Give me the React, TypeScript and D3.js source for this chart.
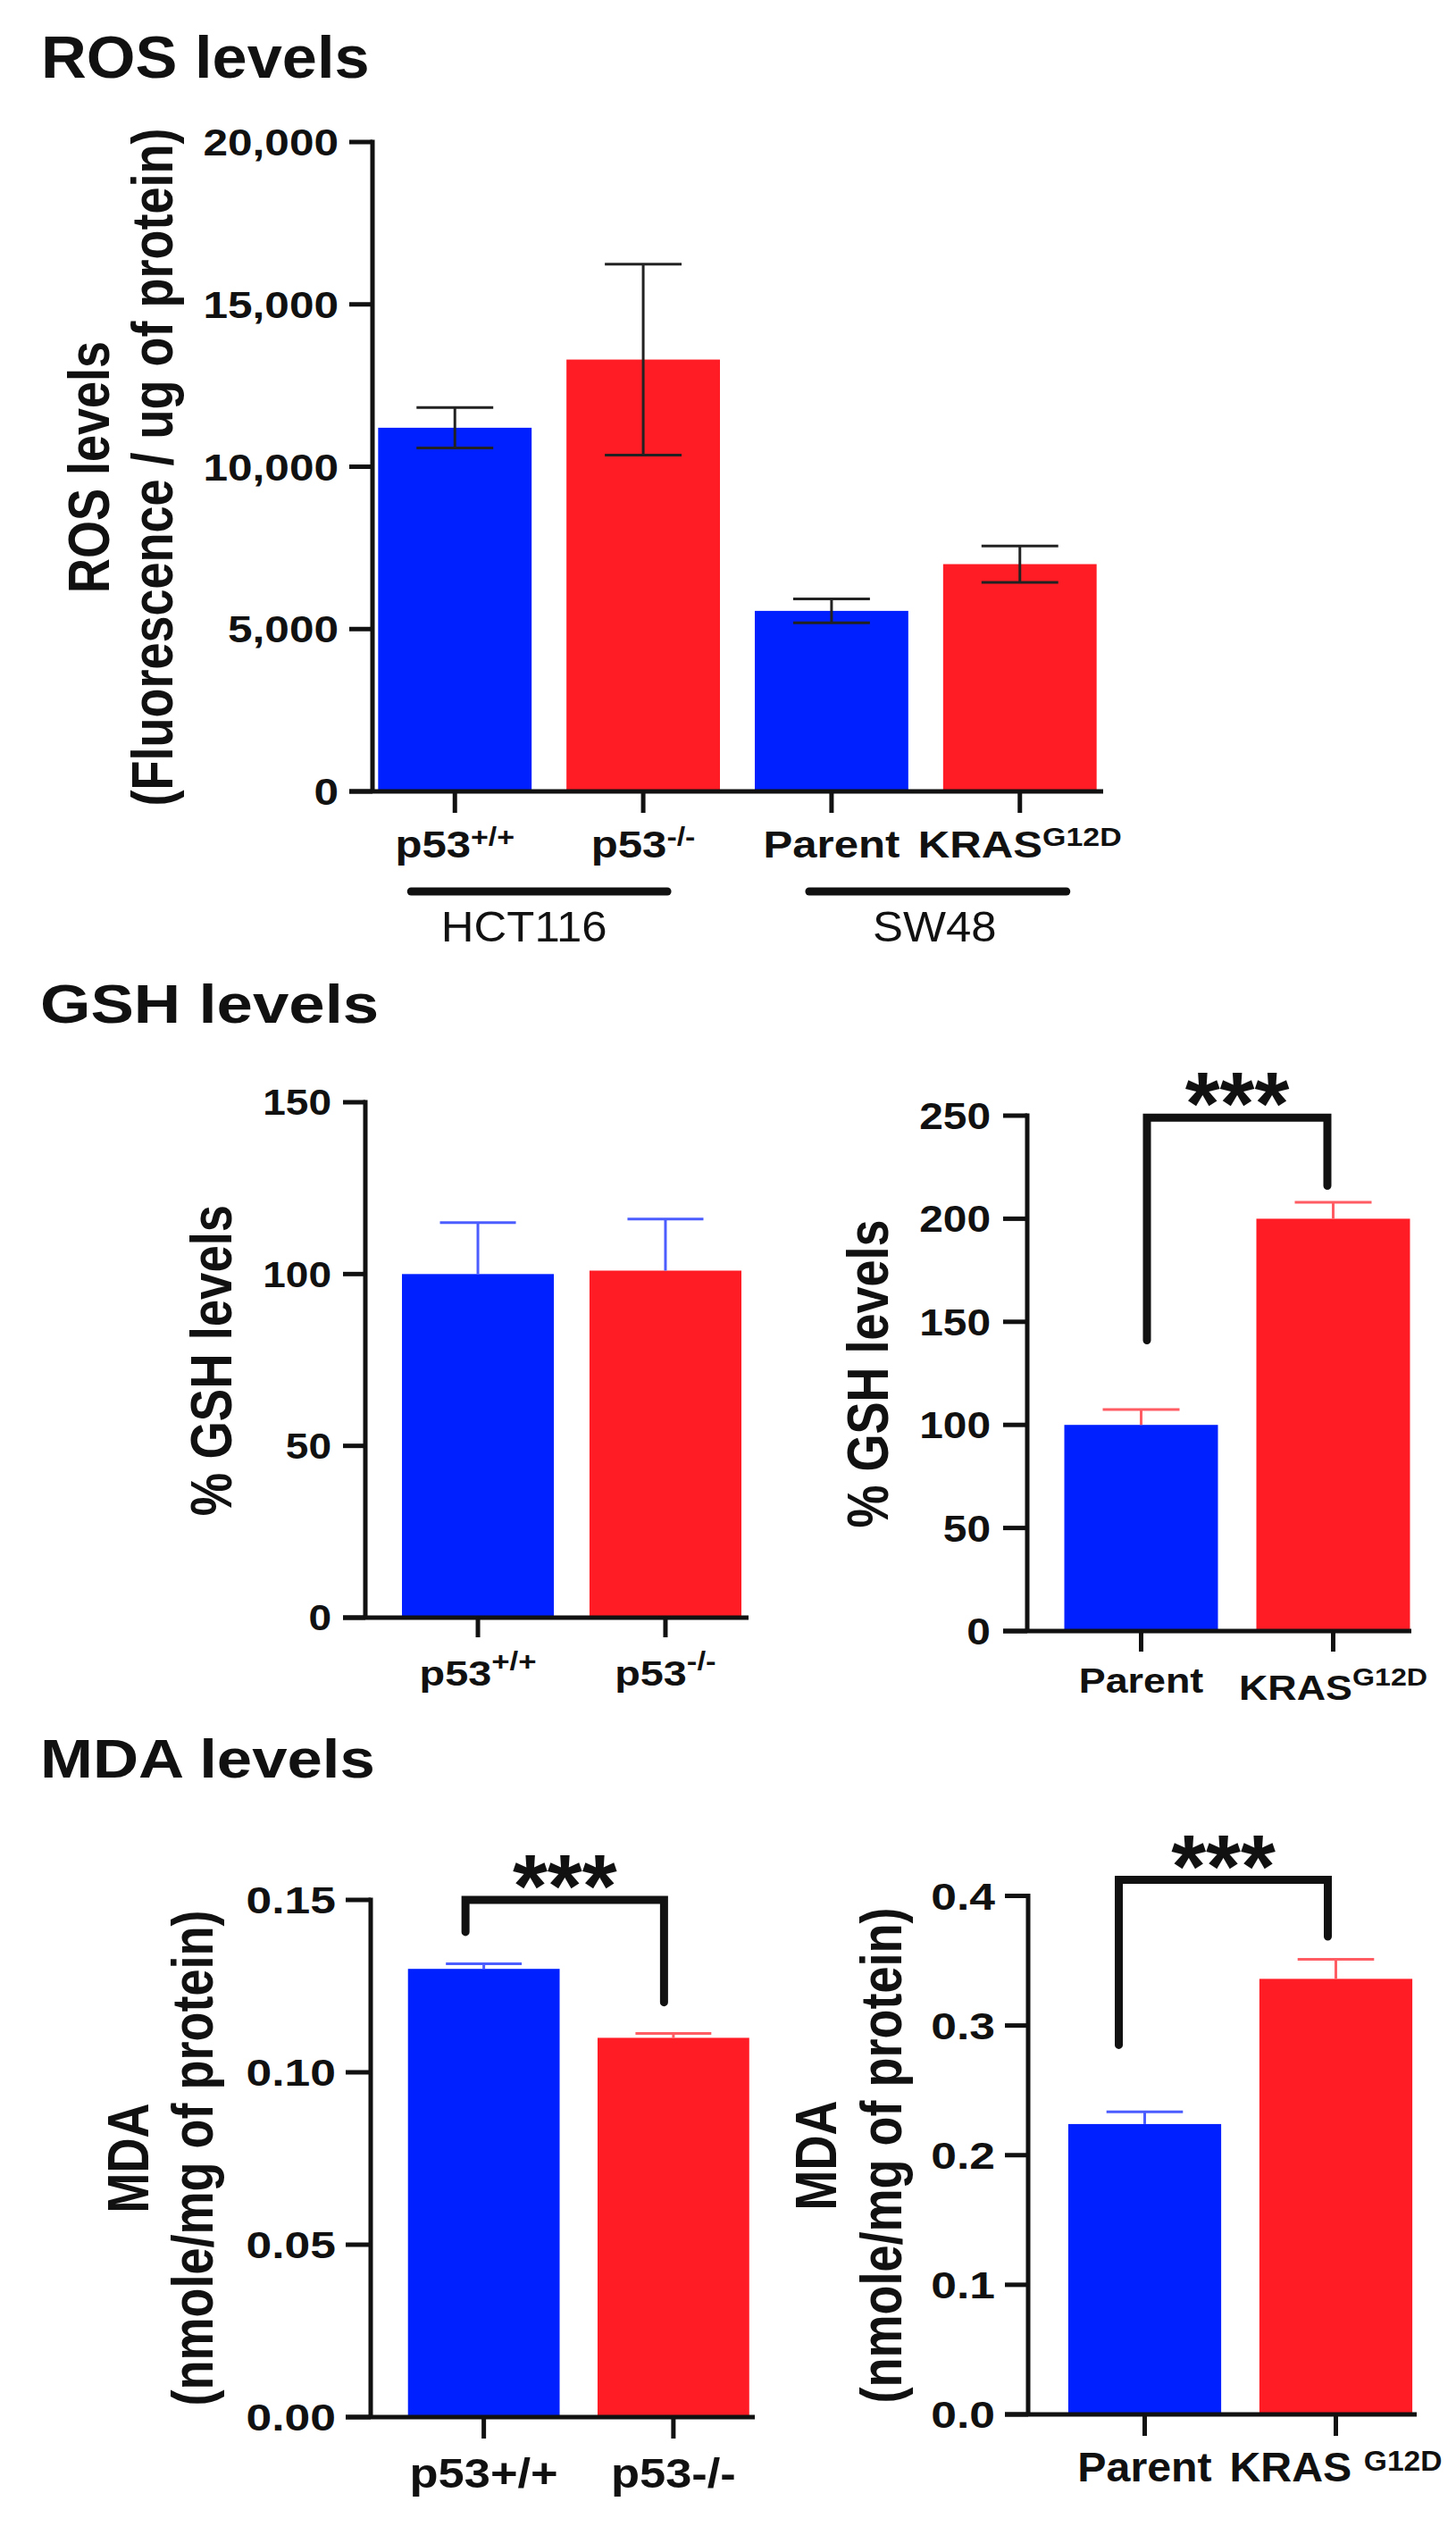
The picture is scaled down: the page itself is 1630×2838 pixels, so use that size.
import React from "react";
import * as d3 from "d3";

const FONT = '"Liberation Sans", Arial, Helvetica, sans-serif';

// ---------------- DATA ----------------
// ROS levels (HCT116 / SW48)
const rosLabels = ["p53", "p53", "Parent", "KRAS"];
const rosSups = ["+/+", "-/-", "", "G12D"];
const rosMeans = [11200, 13300, 5560, 7000];
const rosErrors = [620, 2940, 370, 560];
const rosTicks = [0, 5000, 10000, 15000, 20000];
const rosGroupNames = ["HCT116", "SW48"];
const rosGroupMembers = [[0, 1], [2, 3]];
const rosTitle = ["ROS levels", "(Fluorescence / ug of protein)"];

// GSH levels, HCT116
const gshLeftLabels = ["p53", "p53"];
const gshLeftSups = ["+/+", "-/-"];
const gshLeftMeans = [100, 101];
const gshLeftErrors = [15, 15];
const gshLeftTicks = [0, 50, 100, 150];

// GSH levels, SW48
const gshRightLabels = ["Parent", "KRAS"];
const gshRightSups = ["", "G12D"];
const gshRightMeans = [100, 200];
const gshRightErrors = [7.5, 8];
const gshRightTicks = [0, 50, 100, 150, 200, 250];
const gshRightSig = { from: 0, to: 1, top: 249, leftEnd: 141, rightEnd: 216, label: "***" };

const gshTitle = ["% GSH levels"];

// MDA levels, HCT116
const mdaLeftLabels = ["p53+/+", "p53-/-"];
const mdaLeftSups = ["", ""];
const mdaLeftMeans = [0.13, 0.11];
const mdaLeftErrors = [0.0015, 0.0013];
const mdaLeftTicks = [0, 0.05, 0.1, 0.15];
const mdaLeftSig = { from: 0, to: 1, top: 0.15, leftEnd: 0.1407, rightEnd: 0.1203, label: "***" };

// MDA levels, SW48
const mdaRightLabels = ["Parent", "KRAS "];
const mdaRightSups = ["", "G12D"];
const mdaRightMeans = [0.224, 0.336];
const mdaRightErrors = [0.0095, 0.015];
const mdaRightTicks = [0, 0.1, 0.2, 0.3, 0.4];
const mdaRightSig = { from: 0, to: 1, top: 0.4124, leftEnd: 0.285, rightEnd: 0.3686, label: "***" };

const mdaTitle = ["MDA", "(nmole/mg of protein)"];

const sectionTitles = ["ROS levels", "GSH levels", "MDA levels"];

// ---------------- STYLE ----------------
const BLUE = "#0020ff";
const RED = "#ff1c25";
const BAR_COLORS = [BLUE, RED];
const ERR_BLUE = "#4b5dff";
const ERR_RED = "#ff5c64";
const INK = "#111";

type Sig = { from: number; to: number; top: number; leftEnd: number; rightEnd: number; label: string };

type Layout = {
  axisX: number;
  axisEnd: number;
  yTop: number;
  yBottom: number;
  range: [number, number];
  padInner: number;
  padOuter: number;
  yTickLen: number;
  xTickLen: number;
  axisW: number;
  tick: { size: number; sx: number; gap: number };
  xlab: { size: number; sx: number; baseline: number; supSize: number; supRaise: number; dys?: number[] };
  ytitle: { size: number; sx: number; cy: number; xs: number[] };
  err: { mode: "both" | "up"; colors: string[]; width: number };
  bracket?: { legDx: [number, number]; width: number; starSize: number; starDy: number };
};

function HText(props: {
  x: number; y: number; size: number; sx?: number; weight?: string | number;
  anchor?: string; children: React.ReactNode; fill?: string;
}) {
  const { x, y, size, sx = 1, weight = "bold", anchor = "start", children, fill = INK } = props;
  return (
    <text
      transform={`translate(${x},${y}) scale(${sx},1)`}
      fontFamily={FONT}
      fontSize={size}
      fontWeight={weight}
      textAnchor={anchor}
      fill={fill}
    >
      {children}
    </text>
  );
}

function VText(props: { x: number; y: number; size: number; sx?: number; children: React.ReactNode }) {
  const { x, y, size, sx = 1, children } = props;
  return (
    <text
      transform={`translate(${x},${y}) rotate(-90) scale(1,${sx})`}
      fontFamily={FONT}
      fontSize={size}
      fontWeight="bold"
      textAnchor="middle"
      fill={INK}
    >
      {children}
    </text>
  );
}

function Panel(props: {
  labels: string[];
  sups: string[];
  means: number[];
  errors: number[];
  ticks: number[];
  fmt: (v: number) => string;
  title: string[];
  sig?: Sig;
  L: Layout;
  extra?: (x: d3.ScaleBand<number>, bw: number) => React.ReactNode;
}) {
  const { labels, sups, means, errors, ticks, fmt, title, sig, L, extra } = props;
  const idx = d3.range(labels.length);
  const x = d3
    .scaleBand<number>()
    .domain(idx)
    .range(L.range)
    .paddingInner(L.padInner)
    .paddingOuter(L.padOuter);
  const bw = x.bandwidth();
  const y = d3
    .scaleLinear()
    .domain([0, d3.max(ticks) as number])
    .range([L.yBottom, L.yTop]);
  const cx = (i: number) => (x(i) as number) + bw / 2;
  const capHalf = bw * 0.25;

  return (
    <g>
      {/* bars */}
      {idx.map((i) => (
        <rect
          key={"b" + i}
          x={x(i)}
          y={y(means[i])}
          width={bw}
          height={y(0) - y(means[i])}
          fill={BAR_COLORS[i % 2]}
        />
      ))}
      {/* error bars */}
      {idx.map((i) => {
        const top = y(means[i] + errors[i]);
        const bot = L.err.mode === "both" ? y(means[i] - errors[i]) : y(means[i]);
        const c = L.err.colors[i % L.err.colors.length];
        return (
          <g key={"e" + i} stroke={c} strokeWidth={L.err.width} fill="none">
            <line x1={cx(i)} x2={cx(i)} y1={top} y2={bot} />
            <line x1={cx(i) - capHalf} x2={cx(i) + capHalf} y1={top} y2={top} />
            {L.err.mode === "both" && (
              <line x1={cx(i) - capHalf} x2={cx(i) + capHalf} y1={bot} y2={bot} />
            )}
          </g>
        );
      })}
      {/* axes */}
      <g stroke={INK} strokeWidth={L.axisW} fill="none">
        <line x1={L.axisX} x2={L.axisX} y1={L.yTop - L.axisW / 2} y2={L.yBottom} />
        <line x1={L.axisX - L.yTickLen} x2={L.axisEnd} y1={L.yBottom} y2={L.yBottom} />
        {ticks.map((t) => (
          <line key={"yt" + t} x1={L.axisX - L.yTickLen} x2={L.axisX} y1={y(t)} y2={y(t)} />
        ))}
        {idx.map((i) => (
          <line key={"xt" + i} x1={cx(i)} x2={cx(i)} y1={L.yBottom} y2={L.yBottom + L.xTickLen} />
        ))}
      </g>
      {/* y tick labels */}
      {ticks.map((t) => (
        <HText
          key={"yl" + t}
          x={L.axisX - L.yTickLen - L.tick.gap}
          y={y(t) + 0.358 * L.tick.size}
          size={L.tick.size}
          sx={L.tick.sx}
          anchor="end"
        >
          {fmt(t)}
        </HText>
      ))}
      {/* x labels */}
      {idx.map((i) => (
        <HText
          key={"xl" + i}
          x={cx(i)}
          y={L.xlab.baseline + (L.xlab.dys ? L.xlab.dys[i] : 0)}
          size={L.xlab.size}
          sx={L.xlab.sx}
          anchor="middle"
        >
          {labels[i]}
          {sups[i] ? (
            <tspan dy={-L.xlab.supRaise} fontSize={L.xlab.supSize}>
              {sups[i]}
            </tspan>
          ) : null}
        </HText>
      ))}
      {/* y title */}
      {title.map((t, k) => (
        <VText key={"yt" + k} x={L.ytitle.xs[k]} y={L.ytitle.cy} size={L.ytitle.size} sx={L.ytitle.sx}>
          {t}
        </VText>
      ))}
      {/* significance bracket */}
      {sig && L.bracket && (
        <g>
          <path
            d={`M${cx(sig.from) + L.bracket.legDx[0]},${y(sig.leftEnd)}V${y(sig.top)}H${
              cx(sig.to) + L.bracket.legDx[1]
            }V${y(sig.rightEnd)}`}
            fill="none"
            stroke={INK}
            strokeWidth={L.bracket.width}
            strokeLinejoin="miter"
            strokeLinecap="round"
          />
          <HText
            x={(cx(sig.from) + L.bracket.legDx[0] + cx(sig.to) + L.bracket.legDx[1]) / 2}
            y={y(sig.top) + L.bracket.starDy}
            size={L.bracket.starSize}
            anchor="middle"
          >
            {sig.label}
          </HText>
        </g>
      )}
      {extra && extra(x, bw)}
    </g>
  );
}

// ---------------- LAYOUTS ----------------
const rosLayout: Layout = {
  axisX: 417,
  axisEnd: 1235,
  yTop: 159,
  yBottom: 886,
  range: [417, 1234],
  padInner: 0.185,
  padOuter: 0.03,
  yTickLen: 26,
  xTickLen: 24,
  axisW: 5,
  tick: { size: 42, sx: 1.18, gap: 12 },
  xlab: { size: 42, sx: 1.17, baseline: 960, supSize: 29, supRaise: 13 },
  ytitle: { size: 54, sx: 1.2, cy: 523, xs: [122, 193] },
  err: { mode: "both", colors: ["#222"], width: 3 },
};

const gshLeftLayout: Layout = {
  axisX: 409,
  axisEnd: 838,
  yTop: 1234,
  yBottom: 1811,
  range: [429, 851],
  padInner: 0.19,
  padOuter: 0.1,
  yTickLen: 25,
  xTickLen: 22,
  axisW: 5,
  tick: { size: 40, sx: 1.15, gap: 13 },
  xlab: { size: 39, sx: 1.2, baseline: 1887, supSize: 29, supRaise: 17 },
  ytitle: { size: 54.5, sx: 1.2, cy: 1523, xs: [259] },
  err: { mode: "up", colors: [ERR_BLUE], width: 3 },
};

const gshRightLayout: Layout = {
  axisX: 1150,
  axisEnd: 1580,
  yTop: 1249,
  yBottom: 1826,
  range: [1170, 1600],
  padInner: 0.2,
  padOuter: 0.1,
  yTickLen: 27,
  xTickLen: 23,
  axisW: 5,
  tick: { size: 42, sx: 1.14, gap: 14 },
  xlab: { size: 39, sx: 1.15, baseline: 1895, supSize: 28, supRaise: 16, dys: [0, 8] },
  ytitle: { size: 54, sx: 1.2, cy: 1538, xs: [994] },
  err: { mode: "up", colors: [ERR_RED], width: 3 },
  bracket: { legDx: [6.5, -6.5], width: 9, starSize: 100, starDy: 19 },
};

const mdaLeftLayout: Layout = {
  axisX: 415,
  axisEnd: 845,
  yTop: 2127,
  yBottom: 2706,
  range: [435.5, 860],
  padInner: 0.2,
  padOuter: 0.1,
  yTickLen: 28,
  xTickLen: 24,
  axisW: 5,
  tick: { size: 43, sx: 1.2, gap: 11 },
  xlab: { size: 46, sx: 1.14, baseline: 2785, supSize: 30, supRaise: 12 },
  ytitle: { size: 54, sx: 1.2, cy: 2416, xs: [166, 238] },
  err: { mode: "up", colors: [ERR_BLUE, ERR_RED], width: 3 },
  bracket: { legDx: [-20.5, -10.5], width: 9, starSize: 100, starDy: 19 },
};

const mdaRightLayout: Layout = {
  axisX: 1151,
  axisEnd: 1586,
  yTop: 2122.5,
  yBottom: 2703,
  range: [1174.5, 1602.5],
  padInner: 0.2,
  padOuter: 0.1,
  yTickLen: 26,
  xTickLen: 24,
  axisW: 5,
  tick: { size: 43, sx: 1.2, gap: 11 },
  xlab: { size: 46, sx: 1.05, baseline: 2778, supSize: 32, supRaise: 12 },
  ytitle: { size: 54, sx: 1.2, cy: 2413, xs: [935.5, 1009] },
  err: { mode: "up", colors: [ERR_BLUE, ERR_RED], width: 3 },
  bracket: { legDx: [-29, -9], width: 9, starSize: 100, starDy: 19 },
};

const titleLayout = [
  { x: 46, y: 87, size: 67, sx: 1.05 },
  { x: 45, y: 1145, size: 61, sx: 1.19 },
  { x: 45, y: 1990, size: 61, sx: 1.16 },
];

const rosGroupLayout = {
  lineY: 998,
  lineW: 9,
  pads: [
    [49, 27],
    [25, 52],
  ],
  labelY: 1054,
  labelDx: [-28, 10],
  size: 48,
  sx: 1.06,
};

const fmtComma = d3.format(",");
const fmt2 = d3.format(".2f");
const fmt1 = d3.format(".1f");
const fmtInt = d3.format("d");

export default function App() {
  const rosExtra = (x: d3.ScaleBand<number>, bw: number) => (
    <g>
      {rosGroupMembers.map((m, g) => {
        const a = (x(m[0]) as number) + bw / 2;
        const b = (x(m[m.length - 1]) as number) + bw / 2;
        return (
          <g key={"grp" + g}>
            <line
              x1={a - rosGroupLayout.pads[g][0]}
              x2={b + rosGroupLayout.pads[g][1]}
              y1={rosGroupLayout.lineY}
              y2={rosGroupLayout.lineY}
              stroke={INK}
              strokeWidth={rosGroupLayout.lineW}
              strokeLinecap="round"
            />
            <HText
              x={(a + b) / 2 + rosGroupLayout.labelDx[g]}
              y={rosGroupLayout.labelY}
              size={rosGroupLayout.size}
              sx={rosGroupLayout.sx}
              weight="normal"
              anchor="middle"
            >
              {rosGroupNames[g]}
            </HText>
          </g>
        );
      })}
    </g>
  );

  return (
    <svg
      width={1630}
      height={2838}
      viewBox="0 0 1630 2838"
      style={{ position: "absolute", left: 0, top: 0, background: "#fff", display: "block" }}
    >
      <rect x={0} y={0} width={1630} height={2838} fill="#fff" />
      {sectionTitles.map((t, i) => (
        <HText
          key={"st" + i}
          x={titleLayout[i].x}
          y={titleLayout[i].y}
          size={titleLayout[i].size}
          sx={titleLayout[i].sx}
        >
          {t}
        </HText>
      ))}
      <Panel
        labels={rosLabels}
        sups={rosSups}
        means={rosMeans}
        errors={rosErrors}
        ticks={rosTicks}
        fmt={fmtComma}
        title={rosTitle}
        L={rosLayout}
        extra={rosExtra}
      />
      <Panel
        labels={gshLeftLabels}
        sups={gshLeftSups}
        means={gshLeftMeans}
        errors={gshLeftErrors}
        ticks={gshLeftTicks}
        fmt={fmtInt}
        title={gshTitle}
        L={gshLeftLayout}
      />
      <Panel
        labels={gshRightLabels}
        sups={gshRightSups}
        means={gshRightMeans}
        errors={gshRightErrors}
        ticks={gshRightTicks}
        fmt={fmtInt}
        title={gshTitle}
        sig={gshRightSig}
        L={gshRightLayout}
      />
      <Panel
        labels={mdaLeftLabels}
        sups={mdaLeftSups}
        means={mdaLeftMeans}
        errors={mdaLeftErrors}
        ticks={mdaLeftTicks}
        fmt={fmt2}
        title={mdaTitle}
        sig={mdaLeftSig}
        L={mdaLeftLayout}
      />
      <Panel
        labels={mdaRightLabels}
        sups={mdaRightSups}
        means={mdaRightMeans}
        errors={mdaRightErrors}
        ticks={mdaRightTicks}
        fmt={fmt1}
        title={mdaTitle}
        sig={mdaRightSig}
        L={mdaRightLayout}
      />
    </svg>
  );
}
